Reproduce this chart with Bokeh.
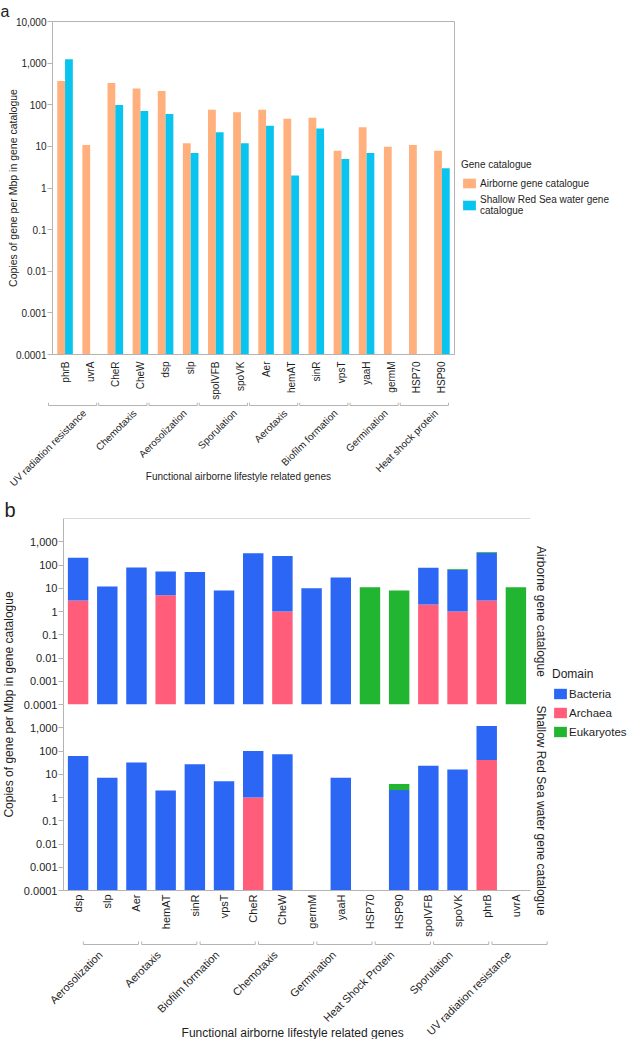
import math
import numpy as np
from bokeh.plotting import figure
from bokeh.models import (FactorRange, Range1d, FixedTicker, NumeralTickFormatter, Legend,
                          LegendItem, Label, Title, Span, ColumnDataSource)
from bokeh.transform import dodge
from bokeh.layouts import column, row
from bokeh.embed import file_html
from bokeh.resources import INLINE
from bokeh.core.properties import value

# ------------------------------------------------------------------ data
# Panel a
genes_a = ["phrB", "uvrA", "CheR", "CheW", "dsp", "slp", "spoIVFB", "spoVK",
           "Aer", "hemAT", "sinR", "vpsT", "yaaH", "germM", "HSP70", "HSP90"]
gene_group_a = ["UV radiation resistance", "UV radiation resistance",
                "Chemotaxis", "Chemotaxis", "Aerosolization", "Aerosolization",
                "Sporulation", "Sporulation", "Aerotaxis", "Aerotaxis",
                "Biofilm formation", "Biofilm formation", "Germination", "Germination",
                "Heat shock protein", "Heat shock protein"]
airborne_a = [372, 10.8, 333, 245, 215, 11.9, 76, 66, 76, 46, 49, 7.9, 28.8, 9.8, 10.8, 7.9]
seawater_a = [1240, np.nan, 98, 71, 60, 6.9, 21.8, 11.9, 31.5, 2.0, 27, 5.0, 6.9, np.nan, np.nan, 3.0]
series_a = ["Airborne gene catalogue", "Shallow Red Sea water gene\ncatalogue"]

# Panel b
genes_b = ["dsp", "slp", "Aer", "hemAT", "sinR", "vpsT", "CheR", "CheW",
           "germM", "yaaH", "HSP70", "HSP90", "spoIVFB", "spoVK", "phrB", "uvrA"]
gene_group_b = ["Aerosolization", "Aerosolization", "Aerotaxis", "Aerotaxis",
                "Biofilm formation", "Biofilm formation", "Chemotaxis", "Chemotaxis",
                "Germination", "Germination", "Heat Shock Protein", "Heat Shock Protein",
                "Sporulation", "Sporulation", "UV radiation resistance", "UV radiation resistance"]
air_archaea = [3, 0, 0, 5, 0, 0, 0, 1, 0, 0, 0, 0, 2, 1, 3, 0]
air_bacteria = [200, 12, 78, 47, 50, 8, 320, 244, 10, 29, 0, 0, 74, 62, 337, 0]
air_eukaryotes = [0, 0, 0, 0, 0, 0, 0, 0, 0, 0, 11, 8, 0, 4, 25, 11]
sea_archaea = [0, 0, 0, 0, 0, 0, 1, 0, 0, 0, 0, 0, 0, 0, 41, 0]
sea_bacteria = [61, 7, 32, 2, 27, 5, 99, 72, 0, 7, 0, 2.1, 23, 16, 1160, 0]
sea_eukaryotes = [0, 0, 0, 0, 0, 0, 0, 0, 0, 0, 0, 1.7, 0, 0, 0, 0]
domains = ["Bacteria", "Archaea", "Eukaryotes"]
facets_b = ["Airborne gene catalogue", "Shallow Red Sea water gene catalogue"]

ticks_a = [0.0001, 0.001, 0.01, 0.1, 1, 10, 100, 1000, 10000]
ticks_b = [0.0001, 0.001, 0.01, 0.1, 1, 10, 100, 1000]
x_title = "Functional airborne lifestyle related genes"
y_title = "Copies of gene per Mbp in gene catalogue"

# ------------------------------------------------------------------ style
FONT = "Liberation Sans"
TXT = "#1e1e1e"
GREY = "#b4b4b4"
ORANGE = "#FFB07C"
CYAN = "#0AC4F0"
BLUE = "#2B66F5"
PINK = "#FF5D79"
GREEN = "#22B532"
DOM_COLORS = {"Bacteria": BLUE, "Archaea": PINK, "Eukaryotes": GREEN}
PAGE_W = 628


def base_fig(**kw):
    p = figure(output_backend="svg", toolbar_location=None, frame_align=False, **kw)
    p.background_fill_color = "white"
    p.border_fill_color = "white"
    p.grid.visible = False
    return p


def blank_fig(w, h, xr, yr):
    p = base_fig(frame_width=w, frame_height=h, x_range=xr, y_range=yr,
                 x_axis_location=None, y_axis_location=None,
                 min_border_left=0, min_border_right=0, min_border_top=0, min_border_bottom=0)
    p.outline_line_color = None
    return p


def group_spans(groups):
    names, first, last = [], [], []
    for i, g in enumerate(groups):
        if g not in names:
            names.append(g); first.append(i); last.append(i)
        else:
            last[names.index(g)] = i
    return names, np.array(first, float), np.array(last, float)


def style_y(ax, ticks, size):
    ax.ticker = FixedTicker(ticks=ticks)
    ax.formatter = NumeralTickFormatter(format="0,0.[0000]")
    ax.minor_tick_line_color = None
    ax.axis_line_color = GREY
    ax.major_tick_line_color = GREY
    ax.major_tick_out = 5
    ax.major_tick_in = 0
    ax.major_label_standoff = 1
    ax.major_label_text_font = FONT
    ax.major_label_text_font_size = size
    ax.major_label_text_color = TXT


def style_x(ax, size, standoff):
    ax.major_label_orientation = math.pi / 2
    ax.major_tick_line_color = None
    ax.major_tick_out = 0
    ax.major_tick_in = 0
    ax.major_label_standoff = standoff
    ax.axis_line_color = GREY
    ax.major_label_text_font = FONT
    ax.major_label_text_font_size = size
    ax.major_label_text_color = TXT


def brackets(p, x0, x1, yb, up):
    m = len(x0)
    ys = [yb] * m
    ye = [yb + up] * m
    p.segment(x0=x0, y0=ys, x1=x1, y1=ys, line_color=GREY, line_width=1)
    p.segment(x0=x0, y0=ys, x1=x0, y1=ye, line_color=GREY, line_width=1)
    p.segment(x0=x1, y0=ys, x1=x1, y1=ye, line_color=GREY, line_width=1)


# ------------------------------------------------------------------ panel a
n_a = len(genes_a)
AL, AFW, AFH, AT = 52, 402, 333, 21
src_a = ColumnDataSource(dict(gene=genes_a, air=airborne_a, sea=seawater_a))
pa = base_fig(x_range=FactorRange(factors=genes_a, range_padding=0, factor_padding=0),
              y_range=Range1d(ticks_a[0], ticks_a[-1]), y_axis_type="log",
              frame_width=AFW, frame_height=AFH,
              min_border_left=AL, min_border_right=PAGE_W - AL - AFW,
              min_border_top=AT, min_border_bottom=46)
pa.outline_line_color = GREY
style_y(pa.yaxis[0], ticks_a, "10px")
pa.yaxis.axis_label = y_title
pa.yaxis.axis_label_text_font = FONT
pa.yaxis.axis_label_text_font_size = "10.5px"
pa.yaxis.axis_label_text_font_style = "normal"
pa.yaxis.axis_label_text_color = TXT
pa.yaxis.axis_label_standoff = -6
style_x(pa.xaxis[0], "10px", 7)

floor_a = pa.y_range.start
r_air = pa.vbar(x=dodge("gene", -0.155, range=pa.x_range), top="air", bottom=floor_a,
                width=0.31, source=src_a, fill_color=ORANGE, line_color=None)
r_sea = pa.vbar(x=dodge("gene", 0.155, range=pa.x_range), top="sea", bottom=floor_a,
                width=0.31, source=src_a, fill_color=CYAN, line_color=None)

leg_a = Legend(items=[LegendItem(label=series_a[0], renderers=[r_air]),
                      LegendItem(label=series_a[1], renderers=[r_sea])],
               title="Gene catalogue", location=(7, 138),
               border_line_color=None, background_fill_alpha=0, padding=0, margin=0,
               spacing=5, glyph_width=16, glyph_height=12, label_height=12,
               label_standoff=3, label_text_font=FONT, label_text_font_size="10px",
               label_text_color=TXT, title_text_font=FONT, title_text_font_size="10px",
               title_text_font_style="normal", title_text_color=TXT, title_standoff=7)
pa.add_layout(leg_a, "right")
pa.add_layout(Title(text="a", align="left", offset=-AL, vertical_align="top", standoff=0,
                    text_font=FONT, text_font_size="16px", text_font_style="normal",
                    text_color=TXT), "above")

# annotation strip below panel a (group brackets + title), full page width
HA = 86
CW_A = AFW / n_a
ann_a = blank_fig(PAGE_W, HA, Range1d(-AL / CW_A, (PAGE_W - AL) / CW_A), Range1d(0, HA))
names_a, f_a, l_a = group_spans(gene_group_a)
brackets(ann_a, f_a - 0.16, l_a + 0.76, HA - 3, 3)
ann_a.text(x=(f_a + l_a + 1) / 2 + 0.12, y=[HA - 5] * len(names_a), text=names_a,
           angle=math.pi / 4, text_align="right", text_baseline="top", text_font=value(FONT),
           text_font_size="10px", text_color=TXT)
ann_a.add_layout(Label(x=7.4, y=12, text=x_title, text_align="center", text_baseline="middle",
                       text_font=FONT, text_font_size="10px", text_color=TXT))

# ------------------------------------------------------------------ panel b
n_b = len(genes_b)
xr_b = FactorRange(factors=genes_b, range_padding=0, factor_padding=0)
YT_W, BL, BFW, FR, MR_B = 16, 47, 467, 186, 22
TOP_B, BOT_B, OVL = 30, 50, 8


def facet(arch, bact, euk, top_border, bottom_border, show_x):
    p = base_fig(x_range=xr_b, y_range=Range1d(ticks_a[0], ticks_a[-1]), y_axis_type="log",
                 frame_width=BFW, frame_height=FR,
                 min_border_left=BL, min_border_right=MR_B,
                 min_border_top=top_border, min_border_bottom=bottom_border,
                 x_axis_location="below" if show_x else None)
    p.outline_line_color = None
    style_y(p.yaxis[0], ticks_b, "11px")
    if show_x:
        style_x(p.xaxis[0], "11px", 4)
    floor = p.y_range.start
    a = np.array(arch, float); b = np.array(bact, float); e = np.array(euk, float)
    c1 = a; c2 = a + b; c3 = c2 + e
    parts = {"Archaea": (np.zeros(n_b), c1, a), "Bacteria": (c1, c2, b), "Eukaryotes": (c2, c3, e)}
    for dom in ["Archaea", "Bacteria", "Eukaryotes"]:
        lo, hi, v = parts[dom]
        bottom = np.maximum(lo, floor)
        top = np.where(v > 0, hi, np.nan)
        s = ColumnDataSource(dict(gene=genes_b, bottom=bottom, top=top))
        p.vbar(x="gene", bottom="bottom", top="top", width=0.7, source=s,
               fill_color=DOM_COLORS[dom], line_color=None)
    return p


top_b = facet(air_archaea, air_bacteria, air_eukaryotes, TOP_B, OVL, False)
bot_b = facet(sea_archaea, sea_bacteria, sea_eukaryotes, 0, BOT_B, True)
# lower facet overlaps the upper one's bottom border so that its "0.0001" label stays whole
bot_b.margin = (-OVL, 0, 0, 0)
bot_b.border_fill_alpha = 0
bot_b.background_fill_alpha = 0
top_b.add_layout(Title(text=facets_b[0], align="center", text_font=FONT, text_font_size="12px",
                       text_font_style="normal", text_color=TXT, standoff=6), "right")
bot_b.add_layout(Title(text=facets_b[1], align="left", offset=1, text_font=FONT,
                       text_font_size="12px", text_font_style="normal", text_color=TXT,
                       standoff=6), "right")
top_b.add_layout(Span(location=top_b.y_range.end, dimension="width", line_color=GREY, line_width=1))

HROW = TOP_B + FR + FR + BOT_B
ytit = blank_fig(YT_W, HROW, Range1d(0, 1), Range1d(0, HROW))
ytit.add_layout(Label(x=0.5, y=HROW - (TOP_B + FR), text=y_title, angle=math.pi / 2,
                      text_align="center", text_baseline="middle", text_font=FONT,
                      text_font_size="12px", text_color=TXT))
ytit.add_layout(Label(x=4, y=HROW - 10, x_units="screen", y_units="screen", text="b",
                      text_align="left", text_baseline="top", text_font=FONT,
                      text_font_size="20px", text_color=TXT))

LW = PAGE_W - YT_W - (BL + BFW + MR_B)
legf = blank_fig(LW, HROW, Range1d(0, 1), Range1d(0, 1))
items = []
for dom in domains:
    r = legf.vbar(x=[dom], top=[np.nan], width=0.5, fill_color=DOM_COLORS[dom], line_color=None)
    items.append(LegendItem(label=dom, renderers=[r]))
leg_b = Legend(items=items, title="Domain", location=(0, HROW - (736 - 486)),
               border_line_color=None, background_fill_alpha=0, padding=0, margin=0,
               spacing=6, glyph_width=16, glyph_height=13, label_height=13,
               label_standoff=1, label_text_font=FONT, label_text_font_size="11.5px",
               label_text_color=TXT, title_text_font=FONT, title_text_font_size="12px",
               title_text_font_style="normal", title_text_color=TXT, title_standoff=6)
legf.add_layout(leg_b, "center")

# annotation strip below panel b, full page width
HB = 101
CW_B = BFW / n_b
BX = YT_W + BL
ann_b = blank_fig(PAGE_W, HB, Range1d(-BX / CW_B, (PAGE_W - BX) / CW_B), Range1d(0, HB))
names_b, f_b, l_b = group_spans(gene_group_b)
brackets(ann_b, f_b + 0.68, l_b + 1.57, HB - 4, 3)
ann_b.text(x=(f_b + l_b + 1) / 2 + 0.12, y=[HB - 8] * len(names_b), text=names_b,
           angle=math.pi / 4, text_align="right", text_baseline="top", text_font=value(FONT),
           text_font_size="11px", text_color=TXT)
ann_b.add_layout(Label(x=7.85, y=9, text=x_title, text_align="center", text_baseline="middle",
                       text_font=FONT, text_font_size="12px", text_color=TXT))

panel_b = row(ytit, column(top_b, bot_b), legf)
page = column(pa, ann_a, panel_b, ann_b)

open("out.html", "w").write(file_html(page, INLINE))
